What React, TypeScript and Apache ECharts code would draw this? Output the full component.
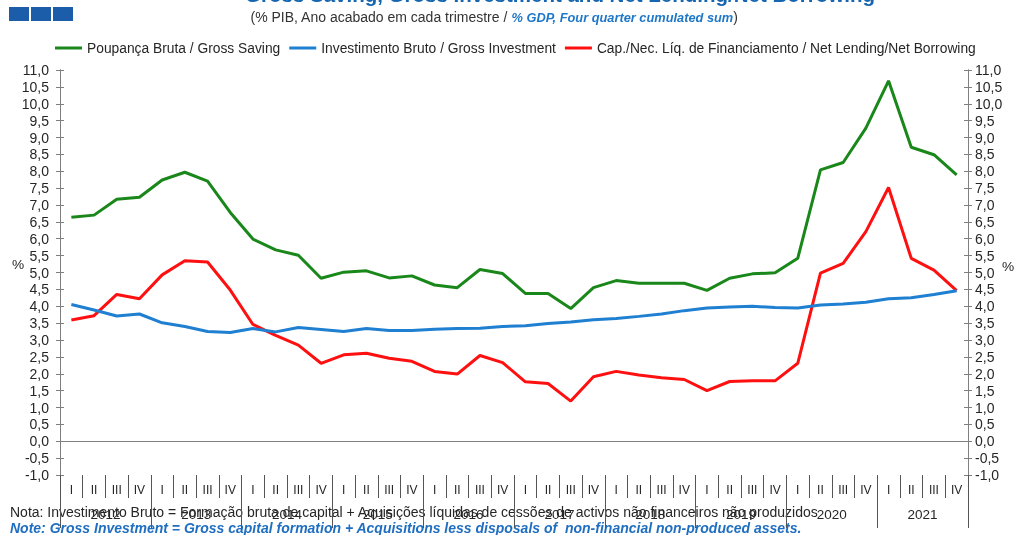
import React, { useEffect, useRef } from "react";
import * as echarts from "echarts";

const years = ["2012", "2013", "2014", "2015", "2016", "2017", "2018", "2019", "2020", "2021"];
const quarters = ["I", "II", "III", "IV"];

const grossSaving = [
  6.64, 6.70, 7.17, 7.23, 7.74, 7.97, 7.71, 6.78, 5.99, 5.67, 5.51, 4.83, 5.01, 5.05, 4.84, 4.90,
  4.63, 4.55, 5.09, 4.97, 4.38, 4.38, 3.93, 4.55, 4.76, 4.68, 4.68, 4.68, 4.47, 4.83, 4.96, 4.99,
  5.42, 8.04, 8.26, 9.28, 10.68, 8.71, 8.49, 7.89,
];
const grossInvestment = [
  4.05, 3.89, 3.71, 3.77, 3.51, 3.40, 3.25, 3.22, 3.34, 3.24, 3.37, 3.31, 3.25, 3.34, 3.28, 3.28,
  3.32, 3.34, 3.35, 3.40, 3.42, 3.49, 3.53, 3.60, 3.64, 3.70, 3.77, 3.87, 3.95, 3.98, 4.00, 3.96,
  3.95, 4.04, 4.07, 4.12, 4.22, 4.25, 4.35, 4.46,
];
const netLending = [
  3.59, 3.72, 4.35, 4.22, 4.93, 5.35, 5.31, 4.48, 3.46, 3.14, 2.85, 2.31, 2.56, 2.61, 2.46, 2.37,
  2.07, 1.99, 2.54, 2.33, 1.76, 1.71, 1.19, 1.91, 2.07, 1.96, 1.88, 1.83, 1.50, 1.77, 1.79, 1.79,
  2.31, 4.98, 5.27, 6.21, 7.52, 5.42, 5.07, 4.46,
];

const seriesNames = [
  "Poupança Bruta / Gross Saving",
  "Investimento Bruto / Gross Investment",
  "Cap./Nec. Líq. de Financiamento / Net Lending/Net Borrowing",
];
const colors = ["#1A871A", "#1F7FD0", "#FF1010"];

const periods: string[] = [];
const quarterLabels: string[] = [];
years.forEach((y) => quarters.forEach((q) => { periods.push(y + " " + q); quarterLabels.push(q); }));

const FONT = 'Arial, "Liberation Sans", sans-serif';
const AXIS = "#7f7f7f";
const SEP = "#555555";

export default function App() {
  const ref = useRef<HTMLDivElement>(null);
  useEffect(() => {
    const chart = echarts.init(ref.current!, null, { renderer: "svg" });
    const fmt = (v: number) => v.toFixed(1).replace(".", ",");
    const yBase = { type: "value", min: -1, max: 11, interval: 0.5, splitLine: { show: false } };
    chart.setOption({
      animation: false,
      textStyle: { fontFamily: FONT },
      grid: { left: 60, right: 46, top: 70, bottom: 60 },
      legend: {
        top: 41, left: 55, padding: 0, icon: "rect", itemWidth: 27, itemHeight: 3, itemGap: 9,
        textStyle: { fontSize: 13.8, color: "#262626", fontFamily: FONT },
        data: seriesNames,
      },
      xAxis: [
        {
          type: "category", data: periods, boundaryGap: true, position: "bottom",
          axisLine: { onZero: true, onZeroAxisIndex: 0, lineStyle: { color: AXIS, width: 1 } },
          axisTick: { length: 4, interval: 0, lineStyle: { color: AXIS } },
          axisLabel: { show: false },
        },
        {
          type: "category", data: quarterLabels, boundaryGap: true, position: "bottom",
          axisLine: { show: false, onZero: false },
          axisTick: { show: true, length: 23, interval: 0, lineStyle: { color: SEP } },
          axisLabel: { interval: 0, margin: 9, fontSize: 12, color: "#262626", fontFamily: FONT },
        },
        {
          type: "category", data: years, boundaryGap: true, position: "bottom",
          axisLine: { show: false, onZero: false },
          axisTick: { show: true, length: 53, interval: 0, lineStyle: { color: SEP } },
          axisLabel: { interval: 0, margin: 32, fontSize: 13.5, color: "#262626", fontFamily: FONT },
        },
      ],
      yAxis: [
        {
          ...yBase, position: "left",
          axisLine: { show: true, lineStyle: { color: AXIS } },
          axisTick: { show: true, length: 4, lineStyle: { color: AXIS } },
          axisLabel: { formatter: fmt, margin: 11, fontSize: 14, color: "#262626", fontFamily: FONT },
        },
        {
          ...yBase, position: "left",
          axisLine: { show: true, lineStyle: { color: AXIS } },
          axisTick: { show: true, inside: true, length: 4, lineStyle: { color: AXIS } },
          axisLabel: { show: false },
        },
        {
          ...yBase, position: "right",
          axisLine: { show: true, lineStyle: { color: AXIS } },
          axisTick: { show: true, length: 4, lineStyle: { color: AXIS } },
          axisLabel: { formatter: fmt, margin: 7, fontSize: 14, color: "#262626", fontFamily: FONT },
        },
        {
          ...yBase, position: "right",
          axisLine: { show: true, lineStyle: { color: AXIS } },
          axisTick: { show: true, inside: true, length: 4, lineStyle: { color: AXIS } },
          axisLabel: { show: false },
        },
      ],
      series: [grossSaving, grossInvestment, netLending].map((d, i) => ({
        name: seriesNames[i], type: "line", data: d, xAxisIndex: 0, yAxisIndex: 0,
        symbol: "none", showSymbol: false, color: colors[i],
        lineStyle: { width: 3, color: colors[i] }, z: 3 - i + 2,
      })),
      graphic: [
        { type: "rect", shape: { x: 9, y: 7, width: 20, height: 14 }, style: { fill: "#1B5DA8" } },
        { type: "rect", shape: { x: 31, y: 7, width: 20, height: 14 }, style: { fill: "#1B5DA8" } },
        { type: "rect", shape: { x: 53, y: 7, width: 20, height: 14 }, style: { fill: "#1B5DA8" } },
        {
          type: "text", x: 560, y: -6,
          style: {
            text: "Gross Saving, Gross Investment and Net Lending/Net Borrowing",
            fontSize: 20.5, fontWeight: "bold", fontFamily: FONT, fill: "#1565B0",
            align: "center", verticalAlign: "middle",
          },
        },
        {
          type: "text", x: 494, y: 17,
          style: {
            text: "{g|(% PIB, Ano acabado em cada trimestre / }{b|% GDP, Four quarter cumulated sum}{g|)}",
            align: "center", verticalAlign: "middle",
            rich: {
              g: { fontSize: 14, fontFamily: FONT, fill: "#333333" },
              b: { fontSize: 12.8, fontFamily: FONT, fontWeight: "bold", fontStyle: "italic", fill: "#1F77C8" },
            },
          },
        },
        {
          type: "text", x: 18, y: 264,
          style: { text: "%", fontSize: 13.7, fontFamily: FONT, fill: "#262626", align: "center", verticalAlign: "middle" },
        },
        {
          type: "text", x: 1008, y: 266,
          style: { text: "%", fontSize: 13.7, fontFamily: FONT, fill: "#262626", align: "center", verticalAlign: "middle" },
        },
        {
          type: "text", x: 10, y: 512,
          style: {
            text: "Nota: Investimento Bruto = Formação bruta de capital + Aquisições líquidas de cessões de activos não financeiros não produzidos",
            fontSize: 14, fontFamily: FONT, fill: "#262626", align: "left", verticalAlign: "middle",
          },
        },
        {
          type: "text", x: 10, y: 528,
          style: {
            text: "Note: Gross Investment = Gross capital formation + Acquisitions less disposals of  non-financial non-produced assets.",
            fontSize: 14, fontFamily: FONT, fontWeight: "bold", fontStyle: "italic", fill: "#1F6EC0",
            align: "left", verticalAlign: "middle",
          },
        },
      ],
    });
    return () => chart.dispose();
  }, []);
  return <div ref={ref} style={{ position: "fixed", left: 0, top: 0, width: 1014, height: 535 }} />;
}
